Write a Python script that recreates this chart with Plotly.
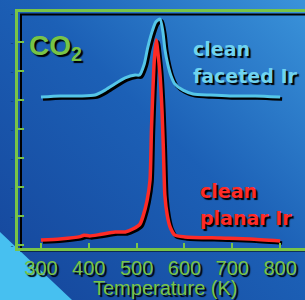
import base64
import plotly.graph_objects as go

# ---------------- data ----------------
faceted_T = [300, 340, 382, 413, 434, 451, 476, 497, 506, 516, 523, 532, 540, 549,
             555, 559, 565, 572, 580, 597, 618, 654, 695, 748, 800]
faceted_S = [5.10, 5.14, 5.14, 5.17, 5.34, 5.52, 5.76, 5.86, 5.86, 6.24, 6.79, 7.34, 7.69, 7.79,
             7.34, 6.76, 6.24, 5.83, 5.55, 5.34, 5.21, 5.17, 5.14, 5.14, 5.10]

planar_T = [300, 340, 382, 390, 402, 423, 455, 476, 492, 507, 513, 522, 528, 531, 534, 537,
            541, 545, 549, 553, 556, 559, 564, 570, 580, 601, 674, 737, 800]
planar_S = [0.17, 0.21, 0.29, 0.34, 0.31, 0.36, 0.45, 0.45, 0.55, 0.72, 0.97, 1.55, 2.24, 3.97,
            5.34, 6.38, 7.07, 6.55, 5.86, 4.66, 3.28, 1.72, 1.03, 0.62, 0.34, 0.28, 0.24, 0.21, 0.14]

x_ticks = [300, 400, 500, 600, 700, 800]
y_ticks = [0, 1, 2, 3, 4, 5, 6, 7, 8]

GREEN = "#78c447"
CYAN = "#55c6e8"
RED = "#ff2b26"
SHADOW = "2px 2px 1px #000000"

x_range = [252, 852]
y_range = [-0.103, 8.034]
px_per_K = 0.478
px_per_u = 29.0
x_shadow = [x_range[0] - 2 / px_per_K, x_range[1] - 2 / px_per_K]
y_shadow = [y_range[0] + 2 / px_per_u, y_range[1] + 2 / px_per_u]

fig = go.Figure()

# shadows (base subplot, shifted ranges)
for T, S in [(faceted_T, faceted_S), (planar_T, planar_S)]:
    fig.add_trace(go.Scatter(x=T, y=S, mode="lines", xaxis="x", yaxis="y",
                             line=dict(color="#000000", width=3.5, shape="spline", smoothing=0.6),
                             hoverinfo="skip", showlegend=False))
# main curves
fig.add_trace(go.Scatter(x=faceted_T, y=faceted_S, mode="lines", xaxis="x2", yaxis="y2",
                         line=dict(color=CYAN, width=3, shape="spline", smoothing=0.6),
                         showlegend=False))
fig.add_trace(go.Scatter(x=planar_T, y=planar_S, mode="lines", xaxis="x2", yaxis="y2",
                         line=dict(color=RED, width=3.5, shape="spline", smoothing=0.6),
                         showlegend=False))

svg = ("<svg xmlns='http://www.w3.org/2000/svg' width='305' height='300'>"
       "<defs><linearGradient id='g' x1='0' y1='1' x2='1' y2='0'>"
       "<stop offset='0' stop-color='#15459a'/><stop offset='0.55' stop-color='#1c60b6'/>"
       "<stop offset='1' stop-color='#3a93da'/></linearGradient></defs>"
       "<rect width='305' height='300' fill='url(#g)'/>"
       "<polygon points='0,232 72,300 0,300' fill='#47c0f0'/></svg>")
src = "data:image/svg+xml;base64," + base64.b64encode(svg.encode()).decode()

W, H = 287.0, 236.0
def px(xp):
    return (xp - 18) / W
def py(yp):
    return (248 - yp) / H

tickfont = dict(family="Liberation Sans", size=20, color=GREEN, shadow=SHADOW)
labfont_c = dict(family="DejaVu Sans", size=19, color="#6fd3f0", weight="bold", shadow=SHADOW)
labfont_r = dict(family="DejaVu Sans", size=19, color=RED, weight="bold", shadow=SHADOW)

fig.update_layout(
    width=305, height=300,
    margin=dict(l=18, r=0, t=12, b=52, autoexpand=False),
    paper_bgcolor="#1f66ba", plot_bgcolor="rgba(0,0,0,0)",
    images=[dict(source=src, xref="paper", yref="paper", x=px(0), y=py(0),
                 sizex=305 / W, sizey=300 / H, xanchor="left", yanchor="top",
                 sizing="stretch", layer="below")],
    xaxis=dict(range=x_shadow, visible=False, fixedrange=True, automargin=False),
    yaxis=dict(range=y_shadow, visible=False, fixedrange=True, automargin=False),
    xaxis2=dict(range=x_range, overlaying="x", side="bottom", showgrid=False, zeroline=False,
                showline=True, linecolor=GREEN, linewidth=3, mirror=True, automargin=False,
                ticks="inside", ticklen=5, tickwidth=2, tickcolor=GREEN,
                tickvals=x_ticks, ticktext=[str(v) for v in x_ticks], tickfont=tickfont),
    yaxis2=dict(range=y_range, overlaying="y", side="left", showgrid=False, zeroline=False,
                showline=True, linecolor=GREEN, linewidth=3, automargin=False,
                ticks="inside", ticklen=6, tickwidth=2, tickcolor=GREEN,
                tickvals=y_ticks, ticktext=["-"] * len(y_ticks),
                tickfont=dict(family="Liberation Sans", size=8, color="#0d2f66")),
    shapes=[
        dict(type="line", xref="paper", yref="paper", x0=px(21), x1=px(21), y0=py(250), y1=py(14),
             line=dict(color="#000000", width=2), layer="below"),
        dict(type="line", xref="paper", yref="paper", x0=px(20), x1=1, y0=py(14.5), y1=py(14.5),
             line=dict(color="#000000", width=2), layer="below"),
        dict(type="line", xref="paper", yref="paper", x0=px(20), x1=1, y0=py(250.5), y1=py(250.5),
             line=dict(color="#000000", width=2), layer="below"),
    ],
    annotations=[
        dict(text="Temperature (K)", xref="paper", yref="paper", x=px(165), y=py(288),
             xanchor="center", yanchor="middle", showarrow=False, font=tickfont),
        dict(text="CO<sub>2</sub>", xref="paper", yref="paper", x=px(27), y=py(47),
             xanchor="left", yanchor="middle", showarrow=False,
             font=dict(family="Liberation Sans", size=28, color=GREEN, weight="bold", shadow=SHADOW)),
        dict(text="clean", xref="paper", yref="paper", x=px(191), y=py(49),
             xanchor="left", yanchor="middle", showarrow=False, font=labfont_c),
        dict(text="faceted Ir", xref="paper", yref="paper", x=px(191), y=py(76),
             xanchor="left", yanchor="middle", showarrow=False, font=labfont_c),
        dict(text="clean", xref="paper", yref="paper", x=px(198), y=py(191),
             xanchor="left", yanchor="middle", showarrow=False, font=labfont_r),
        dict(text="planar Ir", xref="paper", yref="paper", x=px(198), y=py(218),
             xanchor="left", yanchor="middle", showarrow=False, font=labfont_r),
    ],
)

fig.write_html("out.html", config={"displayModeBar": False},
               post_script="document.body.style.margin='0';document.body.style.overflow='hidden';")
